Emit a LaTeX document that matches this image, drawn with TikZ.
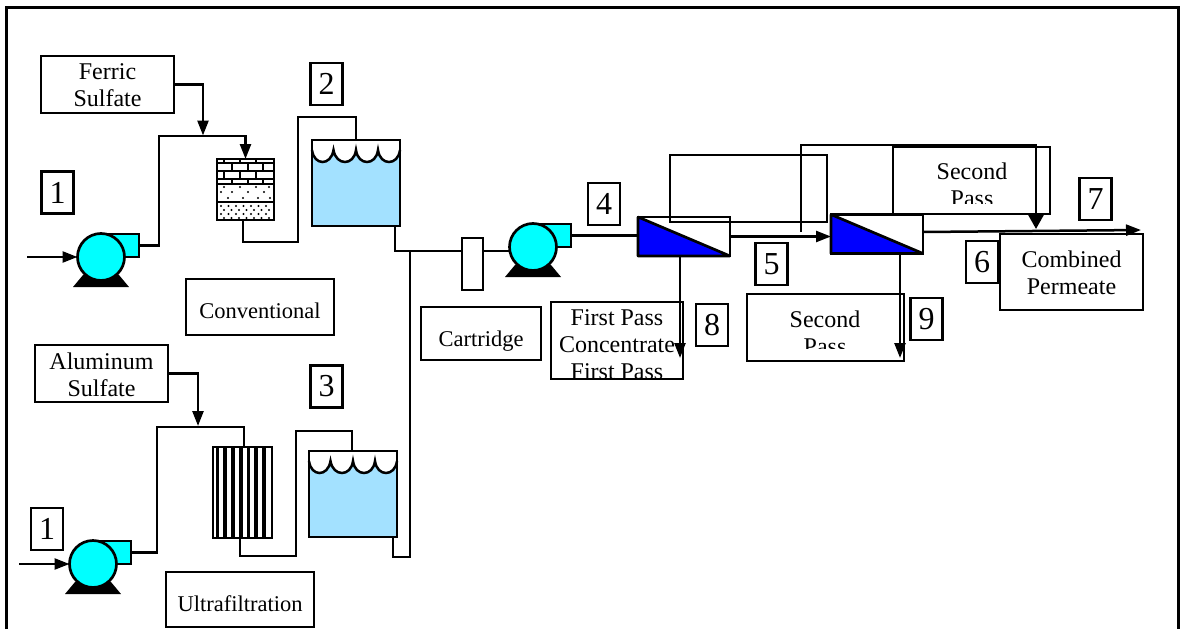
\documentclass[tikz,border=0pt]{standalone}
\usepackage{fontspec}
\setmainfont{Liberation Serif}
\definecolor{pumpcyan}{RGB}{0,255,255}
\definecolor{tankwater}{RGB}{163,225,255}
\definecolor{roblue}{RGB}{0,0,255}
\usetikzlibrary{arrows.meta,positioning}
\newcommand{\topfix}{\rule{0pt}{18pt}}
\tikzset{
  lbox/.style={draw,line width=2.5pt,minimum width=#1,inner sep=0pt,outer sep=0pt,align=center},
  big/.style={font=\fontsize{24}{27}\selectfont,align=center,inner sep=0pt},
  small/.style={font=\fontsize{22.5}{27}\selectfont},
  numbox/.style={draw,line width=2.5pt,minimum width=32pt,minimum height=42pt,inner sep=0pt,outer sep=0pt,
    font=\fontsize{32}{32}\selectfont},
  flow/.style={line width=2.5pt,line join=miter},
  arr/.style={flow,-{Triangle[length=15pt,width=11pt]}},
  bigarr/.style={flow,-{Triangle[length=14pt,width=15pt]}},
  pics/pumpunit/.style={code={
    \fill (-18,18) -- (18,18) -- (28,30) -- (-28,30) -- cycle;
    \node[draw,line width=2.5pt,fill=pumpcyan,minimum width=38pt,minimum height=23pt,inner sep=0pt,outer sep=0pt] (-out) at (19,-11.5) {};
    \node[draw,line width=2.7pt,fill=pumpcyan,circle,minimum size=47pt,inner sep=0pt,outer sep=0pt] (-body) at (0,0) {};
  }},
  pics/tankunit/.style={code={
    \fill[tankwater] (-44,-33) .. controls (-42,-17) and (-25,-17) .. (-22.5,-33)
      .. controls (-20,-17) and (-2,-17) .. (0,-33)
      .. controls (2,-17) and (20,-17) .. (22,-33)
      .. controls (24,-17) and (42,-17) .. (44,-33) -- (44,43) -- (-44,43) -- cycle;
    \draw[line width=2.5pt] (-44,-33) .. controls (-42,-17) and (-25,-17) .. (-22.5,-33)
      .. controls (-20,-17) and (-2,-17) .. (0,-33)
      .. controls (2,-17) and (20,-17) .. (22,-33)
      .. controls (24,-17) and (42,-17) .. (44,-33);
    \node[draw,line width=2.7pt,minimum width=88pt,minimum height=86pt,inner sep=0pt,outer sep=0pt] (-box) at (0,0) {};
  }},
  pics/membraneunit/.style={code={
    \node[draw,line width=2.7pt,fill=white,minimum width=92pt,minimum height=39pt,inner sep=0pt,outer sep=0pt] (-box) at (0,0) {};
    \draw[line width=2.7pt,fill=roblue,line join=bevel] (-46,-19.5) -- (46,19.5) -- (-46,19.5) -- cycle;
  }}
}
\begin{document}
\begin{tikzpicture}[x=1pt,y=-1pt]
  \useasboundingbox (0,0) rectangle (1183,629);
  % Outer frame, open at the bottom
  \draw[line width=3pt] (6,629) -- (6,7) -- (1178,7) -- (1178,629);

  % Dosing and label boxes
  \node[lbox=133pt,minimum height=57pt,big] (ferric) at (107.5,84.5) {\topfix Ferric\\Sulfate};
  \node[lbox=133pt,minimum height=57pt,big] (alum) at (101.5,373.5) {\rule{0pt}{19pt}Aluminum\\Sulfate};
  \node[lbox=148pt,minimum height=56pt,small] (conv) at (260,307) {\raisebox{-11pt}[0pt][0pt]{Conventional}};
  \node[lbox=148pt,minimum height=55pt,small] (uf) at (240,599.5) {\raisebox{-11.5pt}[0pt][0pt]{Ultrafiltration}};
  \node[lbox=120pt,minimum height=53pt,small] (cartlabel) at (481,333.5) {\raisebox{-12.5pt}[0pt][0pt]{Cartridge}};
  \node[lbox=143pt,minimum height=76pt,big] (combined) at (1071.5,272) {\rule{0pt}{19pt}Combined\\Permeate};
  \node[lbox=132pt,minimum height=77pt] (firstpass) at (617,340.5) {};
  \node[lbox=157pt,minimum height=67pt] (secondlow) at (825.5,327.5) {};
  \node[lbox=157pt,minimum height=67pt] (secondtop) at (971.5,180.5) {};

  % Labels that run past what their boxes show
  \begin{scope}
    \clip (551,302) rectangle (683,379);
    \node[big] (firstpasstext) at (617,345) {First Pass\\Concentrate\\First Pass};
  \end{scope}
  \begin{scope}
    \clip (747,294) rectangle (904,348);
    \node[big] (secondlowtext) at (825,332.5) {Second\\Pass};
  \end{scope}
  \begin{scope}
    \clip (893,147) rectangle (1050,203);
    \node[big] (secondtoptext) at (972,184.5) {Second\\Pass};
  \end{scope}

  % Stream numbers
  \node[numbox] (n1a) at (57.5,192.5) {1};
  \node[numbox] (n1b) at (47,529) {1};
  \node[numbox] (n2) at (326.5,84) {2};
  \node[numbox] (n3) at (326.5,386.5) {3};
  \node[numbox] (n4) at (604,204) {4};
  \node[numbox] (n5) at (771.5,264) {5};
  \node[numbox] (n6) at (982,262) {6};
  \node[numbox] (n7) at (1095.5,199) {7};
  \node[numbox] (n8) at (712,325) {8};
  \node[numbox] (n9) at (926.5,319) {9};

  % Equipment
  \pic (pumpA) at (101,257) {pumpunit};
  \pic (pumpB) at (93,564) {pumpunit};
  \pic (pumpC) at (533,247) {pumpunit};
  \pic (tankA) at (356,183) {tankunit};
  \pic (tankB) at (353,494) {tankunit};
  \pic (roA) at (684,236.5) {membraneunit};
  \pic (roB) at (877,234) {membraneunit};
  \node[draw,line width=2.5pt,minimum width=21pt,minimum height=52pt,inner sep=0pt,outer sep=0pt] (cart) at (472.5,264) {};

  % Media filter: brick, coarse and fine layers
  \foreach \y in {163,171,179} \draw[line width=1.6pt] (217,\y) -- (274,\y);
  \foreach \x in {224,240,256} {
    \draw[line width=1.6pt] (\x,159) -- (\x,163);
    \draw[line width=1.6pt] (\x,171) -- (\x,179);
  }
  \foreach \x in {232,248,263} {
    \draw[line width=1.6pt] (\x,163) -- (\x,171);
    \draw[line width=1.6pt] (\x,179) -- (\x,184);
  }
  \foreach \x in {224,240,256,269} \fill (\x,187) circle (1.2pt);
  \foreach \x in {221,232,248,264} \fill (\x,192) circle (1.2pt);
  \foreach \x in {228,243,258,270} \fill (\x,198) circle (1.2pt);
  \foreach \y/\o in {206/221,210/224,214/221,218/224}
    \foreach \i in {0,1,2,3,4,5,6} \fill ({\o+\i*7.5},\y) circle (1.2pt);
  \node[draw,line width=2.7pt,minimum width=57pt,minimum height=61pt,inner sep=0pt,outer sep=0pt] (filter) at (245.5,189.5) {};
  \draw[line width=2.5pt] (217,184) -- (274,184);
  \draw[line width=2.5pt] (217,202) -- (274,202);

  % Ultrafiltration module
  \foreach \x in {225,233,241,248.5,256,264} \draw[line width=3.7pt] (\x,447) -- (\x,538);
  \draw[line width=3pt] (217,447) -- (217,538);
  \node[draw,line width=2.7pt,minimum width=59pt,minimum height=91pt,inner sep=0pt,outer sep=0pt] (ufmod) at (242.5,492.5) {};

  % Junction points
  \coordinate (inA) at (27,257);
  \coordinate (inB) at (19,564);
  \coordinate (dose1) at (203,135.5);
  \coordinate (dose2) at (198,426);
  \coordinate (riseA) at (159,136);
  \coordinate (riseB) at (157,427);
  \coordinate (lineA) at (298,242);
  \coordinate (lineB) at (296,556);
  \coordinate (topA) at (298,117);
  \coordinate (topB) at (296,431);
  \coordinate (mergeB) at (410,251);
  \coordinate (footB) at (393,557);
  \coordinate (cartin) at (462,251);
  \coordinate (cartout) at (483,251);
  \coordinate (recycleA) at (801,232);
  \coordinate (recycleB) at (801,145);
  \coordinate (recycleC) at (1036,145);
  \coordinate (recycleD) at (1036,229);
  \coordinate (permA) at (923,232);
  \coordinate (permB) at (1141,230);
  \coordinate (concA) at (680,358);
  \coordinate (concB) at (900,358);

  % Conventional train
  \draw[arr] (inA) -- (pumpA-body.west);
  \draw[arr] (ferric.east) -| (dose1);
  \draw[arr] (pumpA-out.east) -| (riseA) -| (filter.north);
  \draw[flow] ([xshift=-2.5pt]filter.south) |- (lineA) -- (topA) -| (tankA-box.north);
  \draw[flow] ([xshift=39pt]tankA-box.south) |- (cartin);

  % Ultrafiltration train
  \draw[arr] (inB) -- (pumpB-body.west);
  \draw[arr] (alum.east) -| (dose2);
  \draw[flow] (pumpB-out.east) -| (riseB) -| ([xshift=1.5pt]ufmod.north);
  \draw[flow] ([xshift=-2.5pt]ufmod.south) |- (lineB) -- (topB) -| ([xshift=-1pt]tankB-box.north);
  \draw[flow] ([xshift=40pt]tankB-box.south) |- (footB) -| (mergeB);

  % Cartridge and membranes
  \draw[flow] (cartout) -- (cartout -| pumpC-body.west);
  \draw[flow] (pumpC-out.east) -- (pumpC-out.east -| roA-box.west);
  \draw[arr] (roA-box.east) -- (roA-box.east -| roB-box.west);
  \draw[arr] ([xshift=-4pt]roA-box.south) -- (concA);
  \draw[arr] ([xshift=23pt]roB-box.south) -- (concB);
  \node[draw,line width=2.5pt,minimum width=157pt,minimum height=67pt,inner sep=0pt,outer sep=0pt] (recycle) at (748.5,188.5) {};
  \draw[bigarr] (recycleA) -- (recycleB) -- (recycleC) -- (recycleD);
  \draw[arr] (permA) -- (permB);
\end{tikzpicture}
\end{document}
